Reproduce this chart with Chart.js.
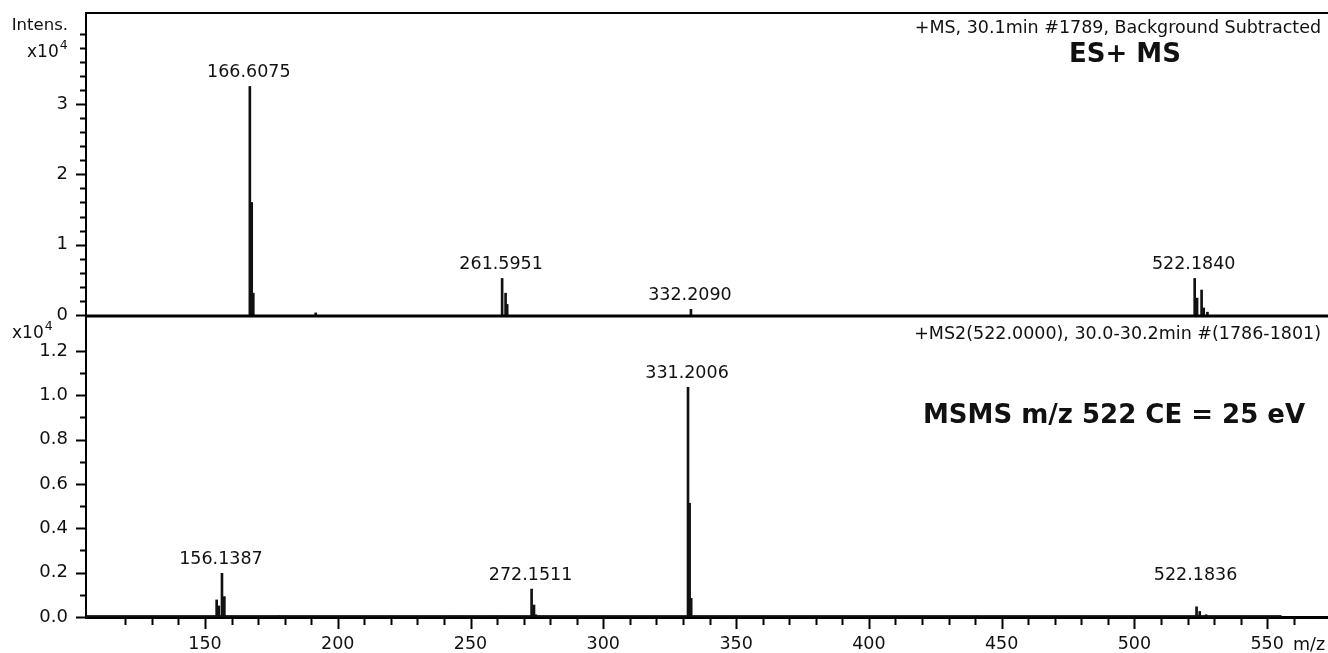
<!DOCTYPE html>
<html>
<head>
<meta charset="utf-8">
<script src="https://cdn.jsdelivr.net/npm/chart.js@4.4.0/dist/chart.umd.min.js"></script>
<style>
html, body { margin: 0; padding: 0; background: #fff; }
#wrap { position: relative; width: 1328px; height: 653px; }
#wrap canvas { position: absolute; left: 0; top: 0; }
</style>
</head>
<body>
<div id="wrap">
  <canvas id="msTop" width="1328" height="653"></canvas>
  <canvas id="msBot" width="1328" height="653"></canvas>
</div>
<script>
// ES+ MS scan, intensity in x10^4
var msMz  = [166.9, 167.6, 168.2, 191.7, 261.9, 263.2, 263.8, 333.0, 522.7, 523.6, 525.3, 526.1, 527.5];
var msInt = [3.25, 1.60, 0.31, 0.03, 0.52, 0.31, 0.15, 0.08, 0.52, 0.24, 0.355, 0.10, 0.04];
var msPeakMz = [166.9, 261.9, 333.0, 522.7];
var msPeakText = ['166.6075', '261.5951', '332.2090', '522.1840'];

// MSMS of m/z 522, intensity in x10^4
var ms2Mz  = [154.4, 155.2, 156.4, 157.3, 177.9, 244.4, 259.8, 273.0, 273.9, 274.6, 331.9, 332.5, 333.1, 523.4, 524.6, 527.0];
var ms2Int = [0.077, 0.05, 0.197, 0.092, 0.005, 0.004, 0.004, 0.126, 0.054, 0.01, 1.036, 0.513, 0.084, 0.046, 0.025, 0.01];
var ms2PeakMz = [156.4, 273.0, 331.9, 523.4];
var ms2PeakText = ['156.1387', '272.1511', '331.2006', '522.1836'];
var ms2NoiseMz  = [105.2, 555.4];
var ms2NoiseInt = [0.006, 0.006];

// axis labels
var mzTickLabels = [150, 200, 250, 300, 350, 400, 450, 500, 550];
var msYLabels  = [0, 1, 2, 3];
var ms2YLabels = [0, 0.2, 0.4, 0.6, 0.8, 1.0, 1.2];

var msHeader  = '+MS, 30.1min #1789, Background Subtracted';
var ms2Header = '+MS2(522.0000), 30.0-30.2min #(1786-1801)';
var msTitle  = 'ES+ MS';
var ms2Title = 'MSMS m/z 522 CE = 25 eV';

var FONT = 'DejaVu Sans';
var INK = '#111';

function near(v, list) {
  for (var i = 0; i < list.length; i++) if (Math.abs(v - list[i]) < 1e-6) return true;
  return false;
}
function onStep(v, step) {
  return Math.abs(v / step - Math.round(v / step)) < 1e-6;
}
function points(xs, ys) {
  return xs.map(function (x, i) { return { x: x, y: ys[i] }; });
}

function mzAxis(show) {
  return {
    type: 'linear', min: 105.2, max: 572.9, display: show, offset: false,
    grid: { display: false, drawTicks: true, tickLength: 10 },
    border: { display: true, color: '#000', width: 3 },
    ticks: {
      stepSize: 10, padding: 7, autoSkip: false, maxRotation: 0, color: INK,
      font: { family: FONT, size: 17.5 },
      callback: function (v) { return near(v, mzTickLabels) ? String(Math.round(v)) : ''; }
    },
    afterBuildTicks: function (s) {
      s.ticks = s.ticks.filter(function (t) { return onStep(t.value, 10); });
    },
    afterFit: function (s) {
      if (show) s.height = 36;
      s.paddingLeft = 0; s.paddingRight = 0;
    }
  };
}

function intensAxis(max, step, labels, digits) {
  return {
    type: 'linear', min: 0, max: max, position: 'left',
    grid: { display: false, drawTicks: true, tickLength: 10 },
    border: { display: true, color: '#000', width: 2 },
    ticks: {
      stepSize: step, padding: 8, autoSkip: false, color: INK,
      font: { family: FONT, size: 18 },
      callback: function (v) { return near(v, labels) ? v.toFixed(digits) : ''; }
    },
    afterBuildTicks: function (s) {
      s.ticks = s.ticks.filter(function (t) { return onStep(t.value, step); });
    },
    afterFit: function (s) {
      s.width = 86;
      s.paddingTop = 0; s.paddingBottom = 0;
    }
  };
}

// draws tick marks, frame lines, peak labels and panel texts
function panelPlugin(cfg) {
  return {
    id: 'panel' + cfg.name,
    afterDraw: function (chart) {
      var ctx = chart.ctx, a = chart.chartArea;
      var xs = chart.scales.x, ys = chart.scales.y;
      ctx.save();
      ctx.strokeStyle = '#000';
      ctx.fillStyle = INK;

      // y ticks, long where labelled
      ctx.lineWidth = 2;
      ys.ticks.forEach(function (t) {
        var y = Math.round(ys.getPixelForValue(t.value)) + 0.5;
        var len = t.label ? 10 : 6;
        ctx.beginPath(); ctx.moveTo(a.left - len, y); ctx.lineTo(a.left, y); ctx.stroke();
      });

      if (cfg.frameTop) {
        ctx.beginPath(); ctx.moveTo(a.left - 1, a.top); ctx.lineTo(a.right, a.top); ctx.stroke();
      }
      if (cfg.baseline) {
        ctx.lineWidth = 3;
        var by = ys.getPixelForValue(0) + 1;
        ctx.beginPath(); ctx.moveTo(a.left, by); ctx.lineTo(a.right, by); ctx.stroke();
      }
      if (cfg.xTicks) {
        ctx.lineWidth = 2;
        var top = a.bottom + 1;
        xs.ticks.forEach(function (t) {
          var x = Math.round(xs.getPixelForValue(t.value)) + 0.5;
          var len = t.label ? 11 : 7;
          ctx.beginPath(); ctx.moveTo(x, top); ctx.lineTo(x, top + len); ctx.stroke();
        });
        ctx.font = '17.5px "' + FONT + '"';
        ctx.textAlign = 'left'; ctx.textBaseline = 'alphabetic';
        ctx.fillText('m/z', 1293, 650);
      }

      // peak labels
      ctx.font = '17.5px "' + FONT + '"';
      ctx.textAlign = 'center'; ctx.textBaseline = 'alphabetic';
      var base = ys.getPixelForValue(0);
      cfg.peakMz.forEach(function (mz, i) {
        var h = cfg.ints[cfg.mzs.indexOf(mz)];
        var y = ys.getPixelForValue(h) - 9;
        if (cfg.minLift) y = Math.min(y, base - cfg.minLift);
        ctx.fillText(cfg.peakText[i], xs.getPixelForValue(mz) - 1, y);
      });

      // scan header
      ctx.font = '17.5px "' + FONT + '"';
      ctx.textAlign = 'right';
      ctx.fillText(cfg.header, 1321, cfg.headerY);

      // bold panel title
      ctx.font = 'bold 26px "' + FONT + '"';
      ctx.textAlign = cfg.titleAlign;
      ctx.fillText(cfg.title, cfg.titleX, cfg.titleY);

      // intensity unit
      if (cfg.intens) {
        ctx.font = '16.5px "' + FONT + '"';
        ctx.textAlign = 'right';
        ctx.fillText('Intens.', 68, 30);
      }
      ctx.textAlign = 'left';
      ctx.font = '17px "' + FONT + '"';
      ctx.fillText('x10', cfg.unitX, cfg.unitY);
      var w = ctx.measureText('x10').width;
      ctx.font = '12.5px "' + FONT + '"';
      ctx.fillText('4', cfg.unitX + w + 1, cfg.unitY - 8);
      ctx.restore();
    }
  };
}

var topChart = new Chart(document.getElementById('msTop').getContext('2d'), {
  type: 'bar',
  data: {
    datasets: [{
      data: points(msMz, msInt),
      backgroundColor: INK, borderWidth: 0, barThickness: 2
    }]
  },
  options: {
    responsive: false, animation: false,
    layout: { padding: { top: 13, bottom: 338, left: 0, right: 0 } },
    plugins: { legend: { display: false }, tooltip: { enabled: false } },
    scales: { x: mzAxis(false), y: intensAxis(4.294, 0.2, msYLabels, 0) }
  },
  plugins: [panelPlugin({
    name: 'Top', frameTop: true, baseline: true, xTicks: false,
    mzs: msMz, ints: msInt, peakMz: msPeakMz, peakText: msPeakText, minLift: 0,
    header: msHeader, headerY: 33,
    title: msTitle, titleAlign: 'center', titleX: 1125, titleY: 62,
    intens: true, unitX: 27, unitY: 57
  })]
});

var botChart = new Chart(document.getElementById('msBot').getContext('2d'), {
  type: 'bar',
  data: {
    datasets: [{
      type: 'line',
      data: points(ms2NoiseMz, ms2NoiseInt),
      borderColor: INK, borderWidth: 1, backgroundColor: INK,
      fill: 'origin', pointRadius: 0
    }, {
      data: points(ms2Mz, ms2Int),
      backgroundColor: INK, borderWidth: 0, barThickness: 2
    }]
  },
  options: {
    responsive: false, animation: false,
    layout: { padding: { top: 317, bottom: 0, left: 0, right: 0 } },
    plugins: { legend: { display: false }, tooltip: { enabled: false } },
    scales: { x: mzAxis(true), y: intensAxis(1.353, 0.1, ms2YLabels, 1) }
  },
  plugins: [panelPlugin({
    name: 'Bot', frameTop: false, baseline: false, xTicks: true,
    mzs: ms2Mz, ints: ms2Int, peakMz: ms2PeakMz, peakText: ms2PeakText, minLift: 37,
    header: ms2Header, headerY: 339,
    title: ms2Title, titleAlign: 'left', titleX: 923, titleY: 423,
    intens: false, unitX: 12, unitY: 338
  })]
});
</script>
</body>
</html>
